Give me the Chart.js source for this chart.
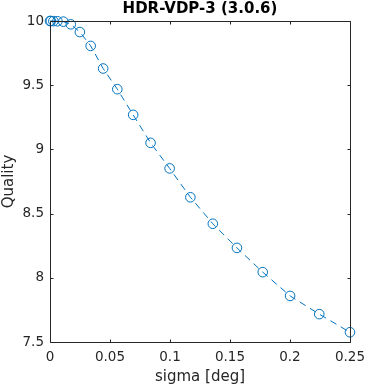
<!DOCTYPE html>
<html>
<head>
<meta charset="utf-8">
<script src="https://cdn.jsdelivr.net/npm/chart.js@4/dist/chart.umd.min.js"></script>
<style>
  html, body { margin: 0; padding: 0; background: #fff; }
  #wrap { width: 372px; height: 387px; }
</style>
</head>
<body>
<div id="wrap"><canvas id="chart" width="372" height="387"></canvas></div>
<script>
// values
const sigma = [0, 0.0007, 0.0028, 0.0062, 0.0111, 0.0173, 0.0249, 0.0339, 0.0443, 0.0561,
  0.0693, 0.0838, 0.0997, 0.117, 0.1357, 0.1558, 0.1773, 0.2001, 0.2244, 0.25];
const quality = [10.0, 10.0, 9.999, 9.998, 9.995, 9.974, 9.914, 9.806, 9.63, 9.469,
  9.269, 9.051, 8.852, 8.627, 8.421, 8.233, 8.044, 7.859, 7.717, 7.576];

const xTicks = [0, 0.05, 0.1, 0.15, 0.2, 0.25];
const xTickLabels = ['0', '0.05', '0.1', '0.15', '0.2', '0.25'];
const yTicks = [7.5, 8, 8.5, 9, 9.5, 10];
const yTickLabels = ['7.5', '8', '8.5', '9', '9.5', '10'];

const titleText = 'HDR-VDP-3 (3.0.6)';
const axisColor = '#262626';
const lineColor = '#0072BD';
const fontFamily = '"DejaVu Sans", sans-serif';

// box round the axes, with ticks pointing inward on all four sides
const boxPlugin = {
  id: 'box',
  afterDraw(chart) {
    const ctx = chart.ctx;
    const a = chart.chartArea;
    const xs = chart.scales.x, ys = chart.scales.y;
    const L = Math.round(a.left) + 0.5, R = Math.round(a.right) + 0.5;
    const T = Math.round(a.top) + 0.5, B = Math.round(a.bottom) + 0.5;
    ctx.save();
    ctx.strokeStyle = axisColor;
    ctx.lineWidth = 1;
    ctx.beginPath();
    ctx.rect(L, T, R - L, B - T);
    xTicks.forEach(v => {
      const px = Math.round(xs.getPixelForValue(v)) + 0.5;
      ctx.moveTo(px, B); ctx.lineTo(px, B - 3);
      ctx.moveTo(px, T); ctx.lineTo(px, T + 3);
    });
    yTicks.forEach(v => {
      const py = Math.round(ys.getPixelForValue(v)) + 0.5;
      ctx.moveTo(L, py); ctx.lineTo(L + 3, py);
      ctx.moveTo(R, py); ctx.lineTo(R - 3, py);
    });
    ctx.stroke();

    ctx.fillStyle = '#000';
    ctx.font = 'bold 15px ' + fontFamily;
    ctx.textAlign = 'center';
    ctx.textBaseline = 'middle';
    ctx.fillText(titleText, (a.left + a.right) / 2, 9);
    ctx.restore();
  }
};

new Chart(document.getElementById('chart'), {
  type: 'line',
  data: {
    datasets: [{
      data: sigma.map((s, i) => ({ x: s, y: quality[i] })),
      borderColor: lineColor,
      borderWidth: 1,
      borderDash: [7, 5],
      pointStyle: 'circle',
      pointRadius: 4.8,
      pointBorderWidth: 1,
      pointBorderColor: lineColor,
      pointBackgroundColor: 'rgba(0,0,0,0)',
      fill: false,
      tension: 0
    }]
  },
  options: {
    responsive: false,
    animation: false,
    devicePixelRatio: 1,
    clip: false,
    layout: { padding: { top: 21, right: 17, left: 0, bottom: 0 } },
    plugins: { legend: { display: false }, tooltip: { enabled: false }, title: { display: false } },
    scales: {
      x: {
        type: 'linear',
        min: 0, max: 0.25,
        grid: { display: false, drawTicks: false },
        border: { display: false },
        afterBuildTicks: s => { s.ticks = xTicks.map(v => ({ value: v })); },
        afterFit: s => { s.height = 45; },
        ticks: {
          color: axisColor,
          padding: 7,
          maxRotation: 0,
          font: { family: fontFamily, size: 13.5 },
          callback: (v, i) => xTickLabels[i]
        },
        title: {
          display: true,
          text: 'sigma [deg]',
          color: axisColor,
          font: { family: fontFamily, size: 15 },
          padding: { top: 0, bottom: 1 }
        }
      },
      y: {
        type: 'linear',
        min: 7.5, max: 10,
        grid: { display: false, drawTicks: false },
        border: { display: false },
        afterBuildTicks: s => { s.ticks = yTicks.map(v => ({ value: v })); },
        afterFit: s => { s.width = 50; },
        ticks: {
          color: axisColor,
          padding: 6,
          font: { family: fontFamily, size: 13.5 },
          callback: (v, i) => yTickLabels[i]
        },
        title: {
          display: true,
          text: 'Quality',
          color: axisColor,
          font: { family: fontFamily, size: 15 },
          padding: 0
        }
      }
    }
  },
  plugins: [boxPlugin]
});
</script>
</body>
</html>
